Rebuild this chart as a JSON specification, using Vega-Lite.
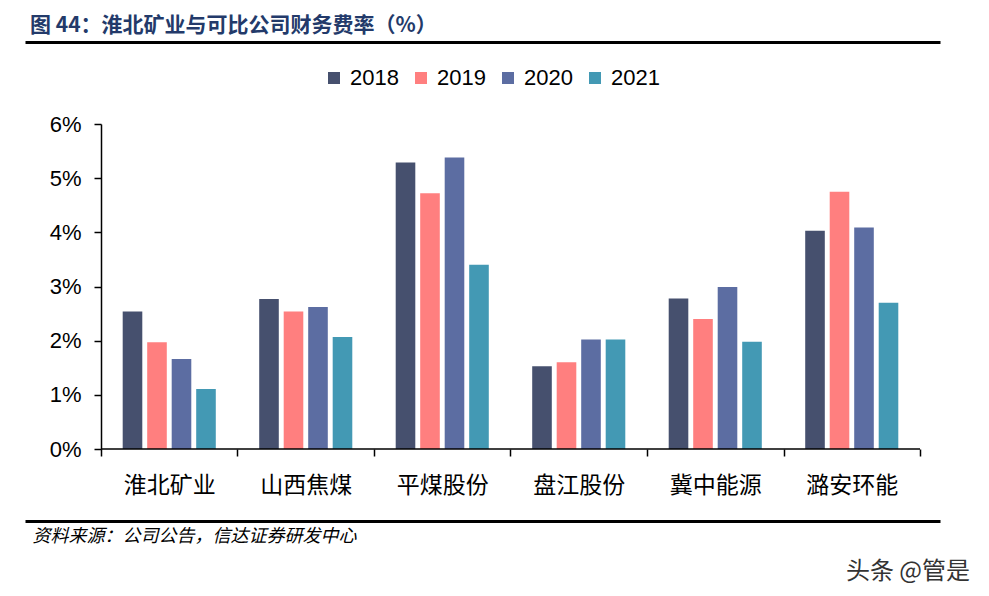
{
  "$schema": "https://vega.github.io/schema/vega-lite/v6.json",
  "width": 915,
  "height": 325,
  "autosize": "none",
  "padding": {"left": 25, "top": 124, "right": 49, "bottom": 147},
  "background": "white",
  "config": {"view": {"stroke": null}, "font": "Liberation Sans"},
  "title": {
    "text": "图 44：淮北矿业与可比公司财务费率（%）",
    "anchor": "start",
    "frame": "group",
    "font": "Noto Sans CJK SC",
    "fontSize": 21,
    "fontWeight": "bold",
    "color": "#233A6A",
    "offset": 6,
    "dx": 5
  },
  "data": {
    "values": [
      {"company": "淮北矿业", "year": "2018", "value": 2.54},
      {"company": "淮北矿业", "year": "2019", "value": 1.97},
      {"company": "淮北矿业", "year": "2020", "value": 1.66},
      {"company": "淮北矿业", "year": "2021", "value": 1.11},
      {"company": "山西焦煤", "year": "2018", "value": 2.77},
      {"company": "山西焦煤", "year": "2019", "value": 2.54},
      {"company": "山西焦煤", "year": "2020", "value": 2.62},
      {"company": "山西焦煤", "year": "2021", "value": 2.07},
      {"company": "平煤股份", "year": "2018", "value": 5.29},
      {"company": "平煤股份", "year": "2019", "value": 4.72},
      {"company": "平煤股份", "year": "2020", "value": 5.38},
      {"company": "平煤股份", "year": "2021", "value": 3.40},
      {"company": "盘江股份", "year": "2018", "value": 1.53},
      {"company": "盘江股份", "year": "2019", "value": 1.60},
      {"company": "盘江股份", "year": "2020", "value": 2.02},
      {"company": "盘江股份", "year": "2021", "value": 2.02},
      {"company": "冀中能源", "year": "2018", "value": 2.78},
      {"company": "冀中能源", "year": "2019", "value": 2.40},
      {"company": "冀中能源", "year": "2020", "value": 2.99},
      {"company": "冀中能源", "year": "2021", "value": 1.98},
      {"company": "潞安环能", "year": "2018", "value": 4.03},
      {"company": "潞安环能", "year": "2019", "value": 4.75},
      {"company": "潞安环能", "year": "2020", "value": 4.09},
      {"company": "潞安环能", "year": "2021", "value": 2.70}
    ]
  },
  "layer": [
    {
      "mark": {"type": "bar"},
      "encoding": {
        "x": {
          "field": "company",
          "type": "nominal",
          "scale": {
            "domain": ["淮北矿业", "山西焦煤", "平煤股份", "盘江股份", "冀中能源", "潞安环能"],
            "paddingInner": 0,
            "paddingOuter": 0.3516,
            "align": 0.7917
          },
          "axis": {
            "orient": "bottom",
            "title": null,
            "domain": false,
            "tickBand": "extent",
            "tickSize": 7,
            "tickColor": "black",
            "tickWidth": 1.5,
            "labelFont": "Noto Sans CJK SC",
            "labelFontSize": 23,
            "labelColor": "black",
            "labelPadding": 18,
            "labelAngle": 0
          }
        },
        "xOffset": {
          "field": "year",
          "type": "nominal",
          "scale": {"paddingInner": 0.2, "paddingOuter": 0.886}
        },
        "y": {
          "field": "value",
          "type": "quantitative",
          "scale": {"domain": [0, 6]},
          "axis": {
            "orient": "left",
            "title": null,
            "offset": -76,
            "values": [0, 1, 2, 3, 4, 5, 6],
            "labelExpr": "datum.value + '%'",
            "grid": false,
            "domainColor": "black",
            "domainWidth": 1.5,
            "tickColor": "black",
            "tickSize": 7,
            "tickWidth": 1.5,
            "labelFontSize": 22,
            "labelColor": "black",
            "labelPadding": 13
          }
        },
        "color": {
          "field": "year",
          "type": "nominal",
          "scale": {
            "domain": ["2018", "2019", "2020", "2021"],
            "range": ["#46506E", "#FF7F7F", "#5C6DA2", "#4399B4"]
          },
          "legend": {
            "orient": "none",
            "legendX": 298,
            "legendY": -57,
            "direction": "horizontal",
            "title": null,
            "symbolType": "square",
            "symbolSize": 144,
            "symbolStrokeWidth": 0,
            "labelFontSize": 22,
            "labelFont": "Liberation Sans",
            "labelColor": "black",
            "columnPadding": 11,
            "labelOffset": 5
          }
        }
      }
    },
    {
      "data": {"values": [{"base": 0}]},
      "mark": {"type": "rule", "color": "black", "strokeWidth": 1.5},
      "encoding": {
        "x": {
          "datum": "淮北矿业",
          "bandPosition": 0,
          "axis": {
            "orient": "top",
            "offset": 82,
            "domain": true,
            "domainColor": "black",
            "domainWidth": 3,
            "labels": false,
            "ticks": false,
            "title": null
          }
        },
        "x2": {"datum": "潞安环能", "bandPosition": 1},
        "y": {"field": "base", "type": "quantitative", "axis": null}
      }
    },
    {
      "data": {"values": [{"wm": "头条 @管是"}]},
      "mark": {
        "type": "text",
        "align": "right",
        "baseline": "middle",
        "dx": 50,
        "font": "Noto Sans CJK SC",
        "fontSize": 24,
        "color": "#333333"
      },
      "encoding": {
        "text": {"field": "wm"},
        "x": {
          "datum": "潞安环能",
          "bandPosition": 1,
          "axis": {
            "orient": "bottom",
            "offset": 72,
            "domain": true,
            "domainColor": "black",
            "domainWidth": 3,
            "labels": false,
            "ticks": false,
            "title": "资料来源：公司公告，信达证券研发中心",
            "titleAnchor": "start",
            "titleAlign": "left",
            "titleFont": "Noto Sans CJK SC",
            "titleFontSize": 18,
            "titleFontStyle": "italic",
            "titleFontWeight": "normal",
            "titleColor": "black",
            "titlePadding": 6,
            "titleX": 7
          }
        },
        "y": {"datum": -2.27, "axis": null}
      }
    }
  ],
  "resolve": {"axis": {"x": "independent", "y": "independent"}}
}
